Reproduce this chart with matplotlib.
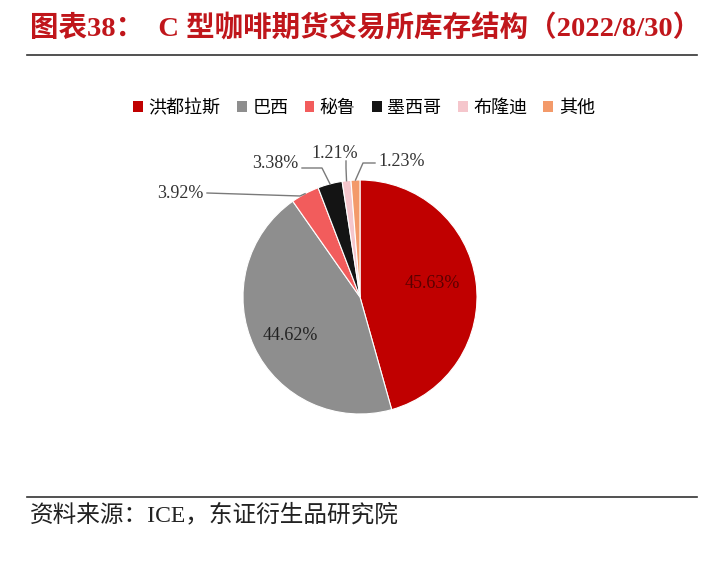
import matplotlib
matplotlib.use("Agg")
import matplotlib.pyplot as plt
import numpy as np

categories = ["洪都拉斯", "巴西", "秘鲁", "墨西哥", "布隆迪", "其他"]
values = [45.63, 44.62, 3.92, 3.38, 1.21, 1.23]
colors = ["#C00000", "#8E8E8E", "#F25C5C", "#141414", "#F5C6CC", "#F39A6A"]
title = "图表38：  C 型咖啡期货交易所库存结构（2022/8/30）"
source = "资料来源：ICE，东证衍生品研究院"

W, H = 720, 568
fig = plt.figure(figsize=(W / 100, H / 100), dpi=100)
fig.patch.set_facecolor("white")

cjk = ["Noto Sans CJK SC", "DejaVu Sans"]
mixed = ["Liberation Serif", "Noto Sans CJK SC", "DejaVu Sans"]
serif = ["Liberation Serif", "DejaVu Serif"]

def fx(px):
    return px / W

def fy(py):
    return 1 - py / H

# Title and rules
fig.text(fx(30), fy(28), title, family=mixed, fontsize=20.5, color="#C0161B",
         fontweight="bold", va="center", ha="left")
fig.add_artist(plt.Line2D([fx(27), fx(697)], [fy(55), fy(55)], color="#333333", lw=1.2))
fig.add_artist(plt.Line2D([fx(27), fx(697)], [fy(497), fy(497)], color="#333333", lw=1.2))
fig.text(fx(30), fy(515), source, family=mixed, fontsize=17, color="#222222",
         va="center", ha="left")

# Pie
cx, cy, r = 360, 297, 117
ax = fig.add_axes([fx(cx - r), fy(cy + r), 2 * r / W, 2 * r / H])
wedges, _ = ax.pie(values, colors=colors, startangle=90, counterclock=False,
                   radius=1.0, wedgeprops=dict(edgecolor="white", linewidth=0.8))
ax.set_xlim(-1, 1)
ax.set_ylim(-1, 1)
ax.set_aspect("auto")
ax.axis("off")

labels = [f"{v:.2f}%" for v in values]

def mid(w):
    return np.deg2rad((w.theta1 + w.theta2) / 2)

def to_data(px, py):
    return ((px - cx) / r, (cy - py) / r)

# inside labels
x0, y0 = to_data(432, 284)
ax.text(x0, y0, labels[0], family=serif, fontsize=13, color="#5a0000",
        ha="center", va="center")
x1, y1 = to_data(290, 335)
ax.text(x1, y1, labels[1], family=serif, fontsize=13, color="#222222",
        ha="center", va="center")

# outside labels (text anchor in pixels)
outside = {
    2: dict(text=(203, 193), ha="right"),
    3: dict(text=(298, 164), ha="right"),
    4: dict(text=(335, 153), ha="center"),
    5: dict(text=(378, 161), ha="left"),
}
for i, o in outside.items():
    tx, ty = to_data(*o["text"])
    ax.text(tx, ty, labels[i], family=serif, fontsize=13, color="#333333",
            ha=o["ha"], va="center", clip_on=False)

# leader lines
lines = {
    2: [(207, 193), (300, 196)],
    3: [(302, 168), (322, 168)],
    4: [(346, 161), (346, 168)],
    5: [(375, 163), (363, 163)],
}
for i, pts in lines.items():
    a = mid(wedges[i])
    ex, ey = np.cos(a), np.sin(a)
    p = [to_data(*q) for q in pts]
    xs = [q[0] for q in p] + [ex]
    ys = [q[1] for q in p] + [ey]
    ax.plot(xs, ys, color="#7a7a7a", lw=1.0, clip_on=False)

# Legend
handles = [plt.Rectangle((0, 0), 1, 1, facecolor=c, edgecolor="none") for c in colors]
fig.legend(handles, categories, loc="center", bbox_to_anchor=(fx(364), fy(108)),
           ncol=6, frameon=False, prop=dict(family=cjk, size=13),
           handlelength=0.55, handleheight=0.55, handletextpad=0.3, columnspacing=0.9)

fig.savefig("out.png", dpi=100, facecolor="white")
